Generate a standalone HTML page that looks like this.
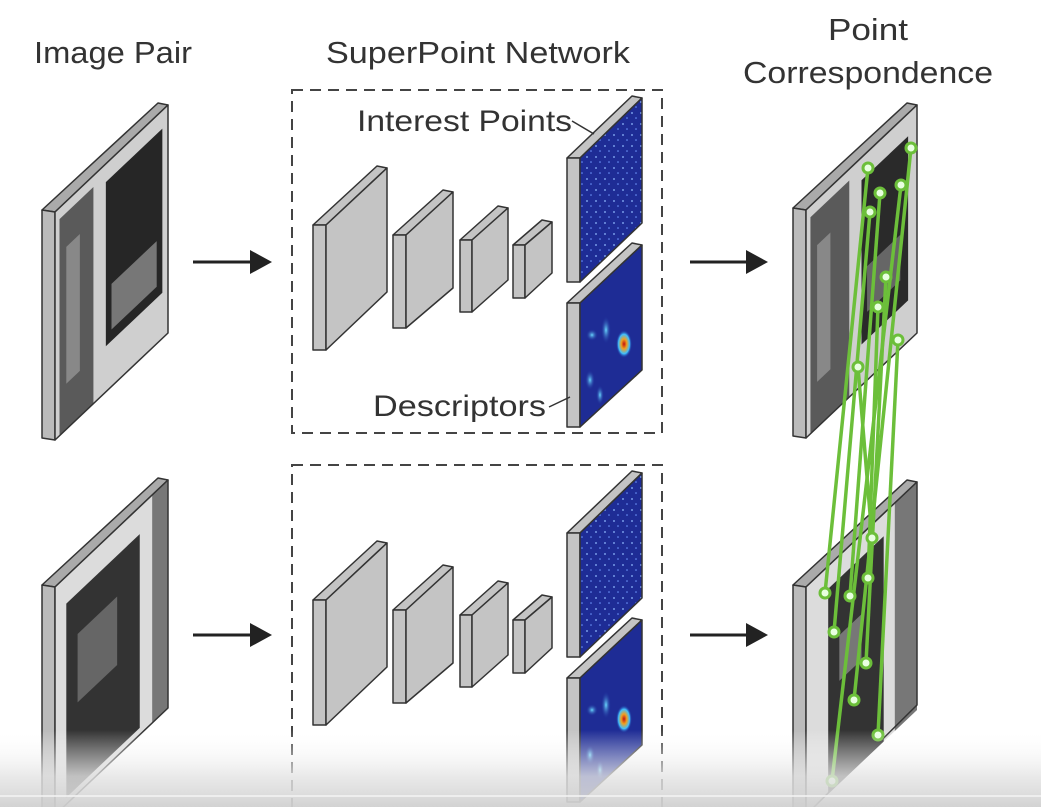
<!DOCTYPE html>
<html><head><meta charset="utf-8"><style>
html,body{margin:0;padding:0;background:#fff;}
svg{display:block}
text{font-family:"Liberation Sans Narrow","Liberation Sans",sans-serif;fill:#333}
</style></head><body>
<svg width="1041" height="807" viewBox="0 0 1041 807" xmlns="http://www.w3.org/2000/svg">
<defs>
<linearGradient id="ov" x1="0" y1="0" x2="0" y2="1">
<stop offset="0" stop-color="#fff" stop-opacity="0"/>
<stop offset="0.6" stop-color="#e4e4e4" stop-opacity="0.8"/>
<stop offset="1" stop-color="#d0d0d0" stop-opacity="0.95"/>
</linearGradient>
<radialGradient id="hot"><stop offset="0" stop-color="#c01010"/><stop offset="0.35" stop-color="#f0a020"/><stop offset="0.7" stop-color="#40c0ff"/><stop offset="1" stop-color="#1c2a9a" stop-opacity="0"/></radialGradient>
<radialGradient id="cy"><stop offset="0" stop-color="#6ad8ff"/><stop offset="1" stop-color="#1c2a9a" stop-opacity="0"/></radialGradient>
<pattern id="spk" width="9" height="11" patternUnits="userSpaceOnUse">
<rect width="9" height="11" fill="#1e2c95"/>
<circle cx="2" cy="3" r="0.9" fill="#8fb8ff"/>
<circle cx="6" cy="8" r="0.8" fill="#6f98ff"/>
</pattern>
</defs>

<text x="113" y="63" font-size="31" text-anchor="middle" textLength="158" lengthAdjust="spacingAndGlyphs">Image Pair</text>
<text x="478" y="63" font-size="31" text-anchor="middle" textLength="304" lengthAdjust="spacingAndGlyphs">SuperPoint Network</text>
<text x="868" y="40" font-size="31" text-anchor="middle" textLength="80" lengthAdjust="spacingAndGlyphs">Point</text>
<text x="868" y="83" font-size="31" text-anchor="middle" textLength="250" lengthAdjust="spacingAndGlyphs">Correspondence</text>

<rect x="292" y="90" width="370" height="343" fill="none" stroke="#444" stroke-width="2" stroke-dasharray="11,7"/>
<rect x="292" y="465" width="370" height="360" fill="none" stroke="#444" stroke-width="2" stroke-dasharray="11,7"/>

<g stroke="#333" stroke-width="1.5" stroke-linejoin="round">
<polygon points="42,210 158,103 168,105 55,212" fill="#aaa"/>
<polygon points="42,210 55,212 55,440 42,438" fill="#bbb"/>
<g transform="matrix(113,-107,0,228,55,212)" stroke="none">
<rect width="1" height="1" fill="#cfcfcf"/>
<rect x="0.04" y="0.05" width="0.3" height="0.95" fill="#5a5a5a"/>
<rect x="0.1" y="0.2" width="0.12" height="0.6" fill="#888"/>
<rect x="0.45" y="0.08" width="0.5" height="0.72" fill="#262626"/>
<rect x="0.5" y="0.55" width="0.4" height="0.2" fill="#777"/>
</g>
<polygon points="55,212 168,105 168,333 55,440" fill="none"/>

<polygon points="42,585 158,478 168,480 55,587" fill="#aaa"/>
<polygon points="42,585 55,587 55,815 42,813" fill="#bbb"/>
<g transform="matrix(113,-107,0,228,55,587)" stroke="none">
<rect width="1" height="1" fill="#dcdcdc"/>
<rect x="0.1" y="0.12" width="0.65" height="0.85" fill="#333"/>
<rect x="0.2" y="0.3" width="0.35" height="0.3" fill="#666"/>
<rect x="0.86" y="0" width="0.14" height="1" fill="#777"/>
</g>
<polygon points="55,587 168,480 168,708 55,815" fill="none"/>

<polygon points="793,208 907,103 917,105 806,210" fill="#aaa"/>
<polygon points="793,208 806,210 806,438 793,436" fill="#bbb"/>
<g transform="matrix(111,-105,0,228,806,210)" stroke="none">
<rect width="1" height="1" fill="#cfcfcf"/>
<rect x="0.04" y="0.05" width="0.35" height="0.95" fill="#5a5a5a"/>
<rect x="0.1" y="0.2" width="0.12" height="0.6" fill="#888"/>
<rect x="0.5" y="0.1" width="0.42" height="0.72" fill="#2a2a2a"/>
<rect x="0.55" y="0.5" width="0.3" height="0.2" fill="#666"/>
</g>
<polygon points="806,210 917,105 917,333 806,438" fill="none"/>

<polygon points="793,585 907,480 917,482 806,587" fill="#aaa"/>
<polygon points="793,585 806,587 806,815 793,813" fill="#bbb"/>
<g transform="matrix(111,-105,0,228,806,587)" stroke="none">
<rect width="1" height="1" fill="#dcdcdc"/>
<rect x="0.2" y="0.1" width="0.5" height="0.9" fill="#333"/>
<rect x="0.3" y="0.35" width="0.2" height="0.2" fill="#777"/>
<rect x="0.8" y="0" width="0.2" height="1" fill="#777"/>
</g>
<polygon points="806,587 917,482 917,705 806,815" fill="none"/>

<g fill="#c4c4c4">
<polygon points="313,225 377,166 387,168 326,225"/><polygon points="313,225 326,225 326,350 313,350"/><polygon points="326,225 387,168 387,292 326,350"/>
<polygon points="393,235 443,190 453,192 406,235"/><polygon points="393,235 406,235 406,328 393,328"/><polygon points="406,235 453,192 453,288 406,328"/>
<polygon points="460,240 498,206 508,208 472,240"/><polygon points="460,240 472,240 472,312 460,312"/><polygon points="472,240 508,208 508,280 472,312"/>
<polygon points="513,245 542,220 552,222 525,245"/><polygon points="513,245 525,245 525,298 513,298"/><polygon points="525,245 552,222 552,273 525,298"/>
</g>
<g transform="translate(0,375)" fill="#c4c4c4">
<polygon points="313,225 377,166 387,168 326,225"/><polygon points="313,225 326,225 326,350 313,350"/><polygon points="326,225 387,168 387,292 326,350"/>
<polygon points="393,235 443,190 453,192 406,235"/><polygon points="393,235 406,235 406,328 393,328"/><polygon points="406,235 453,192 453,288 406,328"/>
<polygon points="460,240 498,206 508,208 472,240"/><polygon points="460,240 472,240 472,312 460,312"/><polygon points="472,240 508,208 508,280 472,312"/>
<polygon points="513,245 542,220 552,222 525,245"/><polygon points="513,245 525,245 525,298 513,298"/><polygon points="525,245 552,222 552,273 525,298"/>
</g>

<g id="fm">
<polygon points="567,158 632,96 642,98 580,158" fill="#c4c4c4"/>
<polygon points="567,158 580,158 580,282 567,282" fill="#c4c4c4"/>
<polygon points="580,158 642,98 642,223 580,282" fill="url(#spk)"/>
<polygon points="567,303 632,243 642,245 580,303" fill="#c4c4c4"/>
<polygon points="567,303 580,303 580,427 567,427" fill="#c4c4c4"/>
<polygon points="580,303 642,245 642,370 580,427" fill="#1e2c95"/>
<g stroke="none">
<ellipse cx="624" cy="344" rx="8" ry="14" fill="url(#hot)"/>
<ellipse cx="606" cy="330" rx="5" ry="14" fill="url(#cy)"/>
<ellipse cx="590" cy="380" rx="5" ry="10" fill="url(#cy)"/>
<ellipse cx="600" cy="395" rx="4" ry="10" fill="url(#cy)"/>
<ellipse cx="592" cy="335" rx="6" ry="6" fill="url(#cy)"/>
</g>
</g>
<use href="#fm" transform="translate(0,375)"/>
</g>

<text x="357" y="131" font-size="30" textLength="215" lengthAdjust="spacingAndGlyphs">Interest Points</text>
<line x1="572" y1="121" x2="594" y2="134" stroke="#333" stroke-width="1.5"/>
<text x="373" y="416" font-size="30" textLength="173" lengthAdjust="spacingAndGlyphs">Descriptors</text>
<line x1="549" y1="407" x2="570" y2="397" stroke="#333" stroke-width="1.5"/>

<g stroke="#222" stroke-width="3" fill="#222">
<line x1="193" y1="262" x2="252" y2="262"/><polygon points="250,250 272,262 250,274" stroke="none"/>
<line x1="193" y1="635" x2="252" y2="635"/><polygon points="250,623 272,635 250,647" stroke="none"/>
<line x1="690" y1="262" x2="748" y2="262"/><polygon points="746,250 768,262 746,274" stroke="none"/>
<line x1="690" y1="635" x2="748" y2="635"/><polygon points="746,623 768,635 746,647" stroke="none"/>
</g>

<g stroke="#6cbf3a" stroke-width="3.5">
<line x1="868" y1="168" x2="825" y2="593"/>
<line x1="870" y1="212" x2="834" y2="632"/>
<line x1="880" y1="193" x2="850" y2="596"/>
<line x1="911" y1="148" x2="854" y2="700"/>
<line x1="901" y1="185" x2="832" y2="781"/>
<line x1="886" y1="277" x2="866" y2="663"/>
<line x1="878" y1="307" x2="868" y2="578"/>
<line x1="898" y1="340" x2="878" y2="735"/>
<line x1="858" y1="367" x2="872" y2="538"/>
</g>
<g fill="#e8ffe0" stroke="#6cbf3a" stroke-width="3">
<circle cx="868" cy="168" r="5"/><circle cx="911" cy="148" r="5"/><circle cx="880" cy="193" r="5"/><circle cx="901" cy="185" r="5"/><circle cx="870" cy="212" r="5"/><circle cx="886" cy="277" r="5"/><circle cx="878" cy="307" r="5"/><circle cx="898" cy="340" r="5"/><circle cx="858" cy="367" r="5"/>
<circle cx="825" cy="593" r="5"/><circle cx="850" cy="596" r="5"/><circle cx="868" cy="578" r="5"/><circle cx="872" cy="538" r="5"/><circle cx="834" cy="632" r="5"/><circle cx="866" cy="663" r="5"/><circle cx="854" cy="700" r="5"/><circle cx="878" cy="735" r="5"/><circle cx="832" cy="781" r="5"/>
</g>

<rect x="0" y="730" width="1041" height="77" fill="url(#ov)"/>
<rect x="0" y="795" width="1041" height="2" fill="#f2f2f2" opacity="0.8"/>
</svg>
</body></html>
